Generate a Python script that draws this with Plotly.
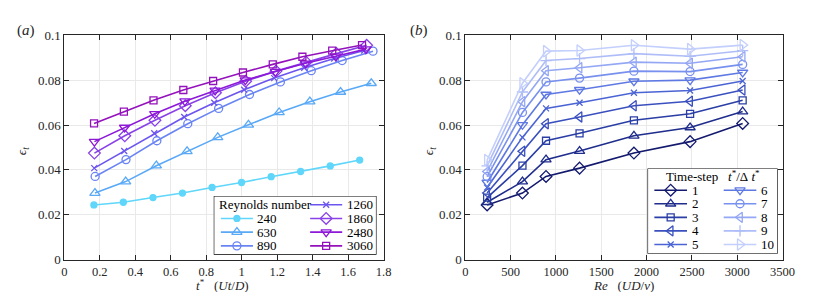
import plotly.graph_objects as go

# ---------------- data ----------------
re_numbers = [240, 630, 890, 1260, 1860, 2480, 3060]
re_labels = ["240", "630", "890", "1260", "1860", "2480", "3060"]
step_labels = ["1", "2", "3", "4", "5", "6", "7", "8", "9", "10"]

# non-dimensional time t* of each of the 10 time-steps, per Reynolds number
t_re240 = [0.167, 0.333, 0.500, 0.666, 0.833, 0.999, 1.166, 1.332, 1.499, 1.665]
t_re630 = [0.173, 0.346, 0.519, 0.692, 0.865, 1.038, 1.211, 1.384, 1.557, 1.730]
t_re890 = [0.174, 0.348, 0.522, 0.696, 0.870, 1.044, 1.218, 1.392, 1.566, 1.740]
t_re1260 = [0.169, 0.338, 0.507, 0.676, 0.845, 1.014, 1.183, 1.352, 1.521, 1.690]
t_re1860 = [0.170, 0.341, 0.511, 0.682, 0.852, 1.022, 1.193, 1.363, 1.534, 1.704]
t_re2480 = [0.170, 0.340, 0.510, 0.680, 0.850, 1.020, 1.190, 1.360, 1.530, 1.700]
t_re3060 = [0.168, 0.336, 0.503, 0.671, 0.839, 1.007, 1.175, 1.342, 1.510, 1.678]

# error eps_t at time-steps 1..10, per Reynolds number
eps_re240 = [0.0244, 0.0256, 0.0277, 0.0297, 0.0322, 0.0344, 0.0370, 0.0393, 0.0418, 0.0444]
eps_re630 = [0.0297, 0.0348, 0.0419, 0.0483, 0.0545, 0.0601, 0.0656, 0.0704, 0.0747, 0.0786]
eps_re890 = [0.0371, 0.0446, 0.0530, 0.0606, 0.0674, 0.0736, 0.0792, 0.0842, 0.0887, 0.0929]
eps_re1260 = [0.0408, 0.0484, 0.0563, 0.0636, 0.0699, 0.0757, 0.0809, 0.0855, 0.0896, 0.0932]
eps_re1860 = [0.0475, 0.0552, 0.0621, 0.0686, 0.0744, 0.0795, 0.0840, 0.0880, 0.0918, 0.0955]
eps_re2480 = [0.0526, 0.0589, 0.0650, 0.0706, 0.0754, 0.0800, 0.0838, 0.0875, 0.0906, 0.0938]
eps_re3060 = [0.0607, 0.0660, 0.0710, 0.0756, 0.0796, 0.0834, 0.0870, 0.0904, 0.0931, 0.0956]

t_star = [t_re240, t_re630, t_re890, t_re1260, t_re1860, t_re2480, t_re3060]
eps = [eps_re240, eps_re630, eps_re890, eps_re1260, eps_re1860, eps_re2480, eps_re3060]

# ---------------- styles ----------------
re_colors = ["#5fd6fa", "#5aa9f7", "#6a84f4", "#6c56ef", "#8942e8", "#8d18d8", "#9412bb"]
re_symbols = ["circle", "triangle-up-open", "circle-open", "x-thin-open",
              "diamond-open", "triangle-down-open", "square-open"]
re_sizes = [6, 9, 8, 6, 9, 9, 7]

step_colors = ["#141a6e", "#1f2d8c", "#2a3ea6", "#3a50bf", "#4b64d4",
               "#5f79e3", "#7890ee", "#94a7f4", "#aebdf8", "#c3cffc"]
step_symbols = ["diamond-open", "triangle-up-open", "square-open", "triangle-left-open",
                "x-thin-open", "triangle-down-open", "circle-open", "triangle-left-open",
                "cross-thin-open", "triangle-right-open"]
step_sizes = [9, 9, 7, 9, 6, 9, 8, 9, 8, 10]

W, H = 830, 292
SERIF = "Liberation Serif"
INK = "#262626"
GRID = "#e9e9e9"


def px_x(p):
    return p / W


def px_y(p):
    return (H - p) / H


fig = go.Figure()


def marker(color, symbol, size):
    return dict(symbol=symbol, size=size, color=color,
                line=dict(color=color, width=1.3))


# panel (a)
for i, lab in enumerate(re_labels):
    fig.add_trace(go.Scatter(
        x=t_star[i], y=eps[i], mode="lines+markers", name=lab,
        line=dict(color=re_colors[i], width=1.6),
        marker=marker(re_colors[i], re_symbols[i], re_sizes[i]),
        xaxis="x", yaxis="y", showlegend=False))

# panel (b): same data, one line per time-step across Reynolds numbers
for k, lab in enumerate(step_labels):
    fig.add_trace(go.Scatter(
        x=re_numbers, y=[row[k] for row in eps], mode="lines+markers", name=lab,
        line=dict(color=step_colors[k], width=1.6),
        marker=marker(step_colors[k], step_symbols[k], step_sizes[k]),
        xaxis="x2", yaxis="y2", showlegend=False))

# ---------------- legends (drawn in small hidden axes, pixel units) ----------------
annotations = []
shapes = []
LEG_FONT = dict(family=SERIF, size=13, color="black")


def legend_key(xa, ya, x0, x1, xm, yr, color, symbol, size, text, tx):
    fig.add_trace(go.Scatter(x=[x0, x1], y=[yr, yr], mode="lines",
                             line=dict(color=color, width=1.6), xaxis=xa, yaxis=ya,
                             showlegend=False, hoverinfo="skip"))
    fig.add_trace(go.Scatter(x=[xm], y=[yr], mode="markers",
                             marker=marker(color, symbol, size), xaxis=xa, yaxis=ya,
                             showlegend=False, hoverinfo="skip"))
    annotations.append(dict(x=tx, y=yr, xref=xa, yref=ya, text=text, showarrow=False,
                            xanchor="left", yanchor="middle", font=LEG_FONT))


# left legend box
LA = dict(left=206.7, right=372.7, top=190.7, bottom=252.7)
la_w, la_h = LA["right"] - LA["left"], LA["bottom"] - LA["top"]
la_row0, la_dr = 9.3, 14.45
la_cols = [(7.3, 40.0, 42.5), (98.3, 131.0, 133.5)]
annotations.append(dict(x=3.0, y=la_row0, xref="x3", yref="y3", text="Reynolds number",
                        showarrow=False, xanchor="left", yanchor="middle", font=LEG_FONT))
for i, lab in enumerate(re_labels):
    col = 0 if i < 3 else 1
    row = i + 1 if i < 3 else i - 3
    x0, x1, tx = la_cols[col]
    legend_key("x3", "y3", x0, x1, (x0 + x1) / 2, la_row0 + la_dr * row,
               re_colors[i], re_symbols[i], re_sizes[i], lab, tx)
shapes.append(dict(type="rect", xref="x3", yref="y3", x0=0, x1=la_w, y0=0, y1=la_h,
                   line=dict(color="black", width=1.2), fillcolor="white", layer="below"))

# right legend box
LB = dict(left=649.0, right=781.7, top=161.7, bottom=251.7)
lb_w, lb_h = LB["right"] - LB["left"], LB["bottom"] - LB["top"]
lb_row0, lb_dr = 23.0, 14.3
lb_cols = [(7.0, 40.3, 43.5), (77.7, 111.0, 113.5)]
annotations.append(dict(x=lb_w / 2, y=8.5, xref="x4", yref="y4",
                        text="Time-step\u00a0\u00a0\u00a0<i>t</i><sup>*</sup>/\u0394\u00a0<i>t</i><sup>*</sup>",
                        showarrow=False, xanchor="center", yanchor="middle", font=LEG_FONT))
for k, lab in enumerate(step_labels):
    col = 0 if k < 5 else 1
    row = k if k < 5 else k - 5
    x0, x1, tx = lb_cols[col]
    legend_key("x4", "y4", x0, x1, (x0 + x1) / 2, lb_row0 + lb_dr * row,
               step_colors[k], step_symbols[k], step_sizes[k], lab, tx)
shapes.append(dict(type="rect", xref="x4", yref="y4", x0=0, x1=lb_w, y0=0, y1=lb_h,
                   line=dict(color="black", width=1.2), fillcolor="white", layer="below"))

# ---------------- axes ----------------
AX_TOP, AX_BOTTOM = 21.3, 258.0
ydom = [px_y(AX_BOTTOM), px_y(AX_TOP)]


def main_axis(size=13, **kw):
    d = dict(showline=True, linecolor=INK, linewidth=1, mirror="ticks",
             ticks="inside", ticklen=5, tickcolor=INK, tickwidth=1,
             showgrid=True, gridcolor=GRID, gridwidth=1, zeroline=False,
             tickfont=dict(family=SERIF, size=size, color=INK), fixedrange=True)
    d.update(kw)
    return d


def hidden_axis(**kw):
    d = dict(visible=False, fixedrange=True, showgrid=False, zeroline=False)
    d.update(kw)
    return d


fig.update_layout(
    width=W, height=H,
    margin=dict(l=0, r=0, t=0, b=0),
    paper_bgcolor="white", plot_bgcolor="white",
    showlegend=False,
    font=dict(family=SERIF, color=INK),
    xaxis=main_axis(size=12.5, domain=[px_x(54.3), px_x(380.0)], range=[0, 1.8], tick0=0, dtick=0.2, anchor="y"),
    yaxis=main_axis(domain=ydom, range=[0, 0.1], tick0=0, dtick=0.02, anchor="x"),
    xaxis2=main_axis(size=12.5, domain=[px_x(463.3), px_x(786.7)], range=[0, 3500], tick0=0, dtick=500, anchor="y2"),
    yaxis2=main_axis(domain=ydom, range=[0, 0.1], tick0=0, dtick=0.02, anchor="x2"),
    xaxis3=hidden_axis(domain=[px_x(LA["left"]), px_x(LA["right"])], range=[0, la_w], anchor="y3"),
    yaxis3=hidden_axis(domain=[px_y(LA["bottom"]), px_y(LA["top"])], range=[la_h, 0], anchor="x3"),
    xaxis4=hidden_axis(domain=[px_x(LB["left"]), px_x(LB["right"])], range=[0, lb_w], anchor="y4"),
    yaxis4=hidden_axis(domain=[px_y(LB["bottom"]), px_y(LB["top"])], range=[lb_h, 0], anchor="x4"),
)


# axis titles and panel labels
def paper_text(text, x, y, size=13.5, angle=0):
    annotations.append(dict(x=px_x(x), y=px_y(y), xref="paper", yref="paper", text=text,
                            showarrow=False, xanchor="center", yanchor="middle", textangle=angle,
                            font=dict(family=SERIF, size=size, color=INK)))


paper_text("<i>t</i><sup>*</sup>\u00a0\u00a0\u00a0(<i>Ut</i>/<i>D</i>)", 216.0, 285.0, size=13)
paper_text("<i>Re</i>\u00a0\u00a0\u00a0(<i>UD</i>/<i>\u03bd</i>)", 625.0, 285.0, size=13)
paper_text("<i>\u03f5</i><sub><i>t</i></sub>", 11.7, 143.0, angle=-90)
paper_text("<i>\u03f5</i><sub><i>t</i></sub>", 426.7, 143.0, angle=-90)
paper_text("(<i>a</i>)", 15.0, 16.5, size=15)
paper_text("(<i>b</i>)", 416.0, 16.5, size=15)

fig.update_layout(annotations=annotations, shapes=shapes)

fig.write_html("out.html")
